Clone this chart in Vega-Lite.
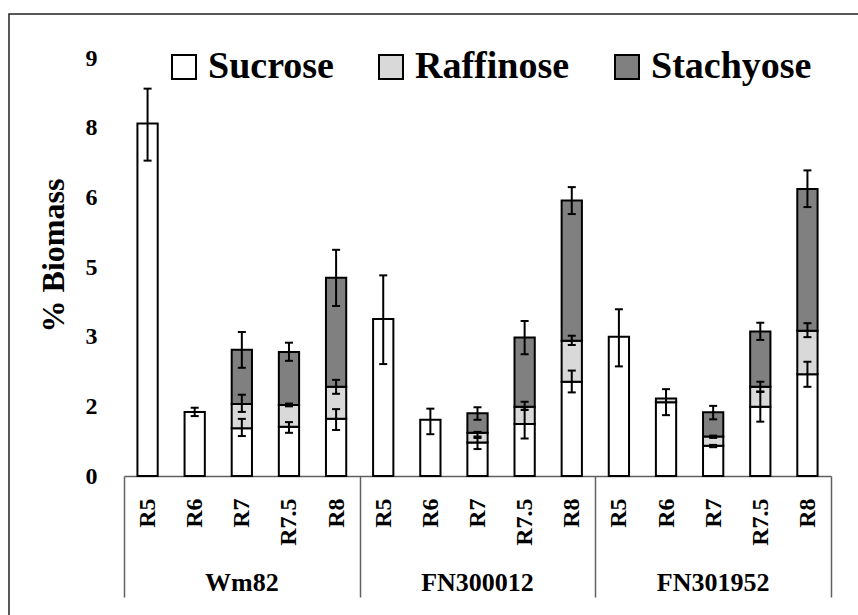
{
  "$schema": "https://vega.github.io/schema/vega-lite/v6.json",
  "width": 858,
  "height": 620,
  "autosize": {"type": "none"},
  "padding": {"left": 9, "top": 14, "right": 0, "bottom": 0},
  "background": "white",
  "config": {
    "font": "Liberation Serif",
    "view": {"stroke": "#222222", "strokeWidth": 1.5},
    "axisY": {
      "offset": -88, "ticks": false, "domain": false, "grid": false,
      "labelPadding": 0, "labelFontSize": 24, "labelFontWeight": "bold", "labelColor": "black",
      "titleFontSize": 32, "titleFontWeight": "bold", "titleColor": "black",
      "titlePadding": 15, "titleY": 241
    }
  },
  "data": {
    "values": [
      {"key": "Wm82 R5", "sugar": "Sucrose", "i": 1, "v": 7.59, "lo": 6.79, "hi": 8.34},
      {"key": "Wm82 R6", "sugar": "Sucrose", "i": 1, "v": 1.38, "lo": 1.29, "hi": 1.47},
      {"key": "Wm82 R7", "sugar": "Sucrose", "i": 1, "v": 1.03, "lo": 0.86, "hi": 1.23},
      {"key": "Wm82 R7", "sugar": "Raffinose", "i": 2, "v": 0.52, "lo": 1.38, "hi": 1.75},
      {"key": "Wm82 R7", "sugar": "Stachyose", "i": 3, "v": 1.17, "lo": 2.33, "hi": 3.10},
      {"key": "Wm82 R7.5", "sugar": "Sucrose", "i": 1, "v": 1.06, "lo": 0.93, "hi": 1.16},
      {"key": "Wm82 R7.5", "sugar": "Raffinose", "i": 2, "v": 0.47, "lo": 1.50, "hi": 1.56},
      {"key": "Wm82 R7.5", "sugar": "Stachyose", "i": 3, "v": 1.14, "lo": 2.48, "hi": 2.87},
      {"key": "Wm82 R8", "sugar": "Sucrose", "i": 1, "v": 1.23, "lo": 0.99, "hi": 1.44},
      {"key": "Wm82 R8", "sugar": "Raffinose", "i": 2, "v": 0.69, "lo": 1.77, "hi": 2.07},
      {"key": "Wm82 R8", "sugar": "Stachyose", "i": 3, "v": 2.35, "lo": 3.66, "hi": 4.87},
      {"key": "FN300012 R5", "sugar": "Sucrose", "i": 1, "v": 3.38, "lo": 2.41, "hi": 4.32},
      {"key": "FN300012 R6", "sugar": "Sucrose", "i": 1, "v": 1.21, "lo": 0.90, "hi": 1.45},
      {"key": "FN300012 R7", "sugar": "Sucrose", "i": 1, "v": 0.72, "lo": 0.58, "hi": 0.82},
      {"key": "FN300012 R7", "sugar": "Raffinose", "i": 2, "v": 0.21, "lo": 0.85, "hi": 0.95},
      {"key": "FN300012 R7", "sugar": "Stachyose", "i": 3, "v": 0.42, "lo": 1.21, "hi": 1.48},
      {"key": "FN300012 R7.5", "sugar": "Sucrose", "i": 1, "v": 1.12, "lo": 0.81, "hi": 1.48},
      {"key": "FN300012 R7.5", "sugar": "Raffinose", "i": 2, "v": 0.37, "lo": 1.42, "hi": 1.60},
      {"key": "FN300012 R7.5", "sugar": "Stachyose", "i": 3, "v": 1.49, "lo": 2.62, "hi": 3.34},
      {"key": "FN300012 R8", "sugar": "Sucrose", "i": 1, "v": 2.03, "lo": 1.80, "hi": 2.27},
      {"key": "FN300012 R8", "sugar": "Raffinose", "i": 2, "v": 0.88, "lo": 2.82, "hi": 3.02},
      {"key": "FN300012 R8", "sugar": "Stachyose", "i": 3, "v": 3.02, "lo": 5.64, "hi": 6.22},
      {"key": "FN301952 R5", "sugar": "Sucrose", "i": 1, "v": 3.00, "lo": 2.36, "hi": 3.59},
      {"key": "FN301952 R6", "sugar": "Sucrose", "i": 1, "v": 1.59, "lo": 1.31, "hi": 1.87},
      {"key": "FN301952 R6", "sugar": "Raffinose", "i": 2, "v": 0.08, "lo": null, "hi": null},
      {"key": "FN301952 R7", "sugar": "Sucrose", "i": 1, "v": 0.65, "lo": 0.62, "hi": 0.67},
      {"key": "FN301952 R7", "sugar": "Raffinose", "i": 2, "v": 0.20, "lo": 0.82, "hi": 0.87},
      {"key": "FN301952 R7", "sugar": "Stachyose", "i": 3, "v": 0.52, "lo": 1.22, "hi": 1.51},
      {"key": "FN301952 R7.5", "sugar": "Sucrose", "i": 1, "v": 1.49, "lo": 1.17, "hi": 1.81},
      {"key": "FN301952 R7.5", "sugar": "Raffinose", "i": 2, "v": 0.43, "lo": 1.82, "hi": 2.03},
      {"key": "FN301952 R7.5", "sugar": "Stachyose", "i": 3, "v": 1.19, "lo": 2.93, "hi": 3.30},
      {"key": "FN301952 R8", "sugar": "Sucrose", "i": 1, "v": 2.19, "lo": 1.92, "hi": 2.46},
      {"key": "FN301952 R8", "sugar": "Raffinose", "i": 2, "v": 0.94, "lo": 2.99, "hi": 3.29},
      {"key": "FN301952 R8", "sugar": "Stachyose", "i": 3, "v": 3.05, "lo": 5.79, "hi": 6.58}
    ]
  },
  "resolve": {"axis": {"x": "independent"}},
  "layer": [
    {
      "mark": {"type": "bar", "width": {"band": 0.43}, "stroke": "black", "strokeWidth": 2},
      "encoding": {
        "x": {
          "field": "key", "type": "nominal", "sort": null,
          "scale": {"type": "band", "domain": ["Wm82 R5","Wm82 R6","Wm82 R7","Wm82 R7.5","Wm82 R8","FN300012 R5","FN300012 R6","FN300012 R7","FN300012 R7.5","FN300012 R8","FN301952 R5","FN301952 R6","FN301952 R7","FN301952 R7.5","FN301952 R8"], "range": [115, 822], "paddingInner": 0, "paddingOuter": 0},
          "axis": {
            "orient": "bottom", "offset": -158, "title": null, "grid": false,
            "labelAngle": 270,
            "labelExpr": "isString(datum.value) ? split(datum.value, ' ')[1] : ''",
            "labelFontSize": 24, "labelFontWeight": "bold", "labelColor": "black",
            "labelPadding": -99, "labelOverlap": false,
            "tickBand": "extent", "tickSize": 121, "tickWidth": 1.5,
            "tickColor": {"condition": {"test": "!isString(datum.value) || datum.value == 'Wm82 R8' || datum.value == 'FN300012 R8' || datum.value == 'FN301952 R8'", "value": "#606060"}, "value": "transparent"},
            "domainColor": "#606060", "domainWidth": 1.5
          }
        },
        "y": {
          "field": "v", "type": "quantitative", "stack": "zero",
          "scale": {"domain": [0, 9], "range": [462, 44], "nice": false, "zero": true},
          "axis": {"title": "% Biomass", "values": [0, 1.5, 3, 4.5, 6, 7.5, 9], "format": ".0f"}
        },
        "color": {
          "field": "sugar", "type": "nominal",
          "scale": {"domain": ["Sucrose", "Raffinose", "Stachyose"], "range": ["#ffffff", "#d9d9d9", "#808080"]},
          "legend": {
            "title": null, "orient": "none", "legendX": 156, "legendY": 34,
            "direction": "horizontal", "columns": 3,
            "symbolType": "square", "symbolSize": 576, "symbolStrokeColor": "black", "symbolStrokeWidth": 2, "symbolOpacity": 1,
            "labelFontSize": 38, "labelFontWeight": "bold", "labelColor": "black", "labelOffset": 5, "labelLimit": 400,
            "columnPadding": 38, "padding": 0
          }
        },
        "order": {"field": "i", "type": "quantitative"}
      }
    },
    {
      "transform": [{"filter": "isValid(datum.lo)"}],
      "mark": {"type": "rule", "strokeWidth": 2, "color": "black"},
      "encoding": {
        "x": {
          "field": "key", "type": "nominal", "sort": null,
          "scale": {"type": "band", "domain": ["Wm82 R5","Wm82 R6","Wm82 R7","Wm82 R7.5","Wm82 R8","FN300012 R5","FN300012 R6","FN300012 R7","FN300012 R7.5","FN300012 R8","FN301952 R5","FN301952 R6","FN301952 R7","FN301952 R7.5","FN301952 R8"], "range": [115, 822], "paddingInner": 0, "paddingOuter": 0},
          "axis": {
            "orient": "bottom", "offset": -158, "title": null, "grid": false,
            "labelAngle": 0,
            "labelExpr": "isString(datum.value) && split(datum.value, ' ')[1] == 'R7' ? split(datum.value, ' ')[0] : ''",
            "labelFontSize": 26, "labelFontWeight": "bold", "labelColor": "black",
            "labelBaseline": "top", "labelAlign": "center", "labelPadding": 93, "labelOverlap": false,
            "ticks": false, "domain": false
          }
        },
        "y": {"field": "lo", "type": "quantitative", "axis": {"title": "% Biomass", "values": [0, 1.5, 3, 4.5, 6, 7.5, 9], "format": ".0f"}},
        "y2": {"field": "hi"}
      }
    },
    {
      "transform": [{"filter": "isValid(datum.lo)"}],
      "mark": {"type": "tick", "size": 8, "thickness": 2, "color": "black", "opacity": 1},
      "encoding": {
        "x": {"field": "key", "type": "nominal", "sort": null, "axis": null},
        "y": {"field": "lo", "type": "quantitative", "axis": {"title": "% Biomass", "values": [0, 1.5, 3, 4.5, 6, 7.5, 9], "format": ".0f"}}
      }
    },
    {
      "transform": [{"filter": "isValid(datum.lo)"}],
      "mark": {"type": "tick", "size": 8, "thickness": 2, "color": "black", "opacity": 1},
      "encoding": {
        "x": {"field": "key", "type": "nominal", "sort": null, "axis": null},
        "y": {"field": "hi", "type": "quantitative", "axis": {"title": "% Biomass", "values": [0, 1.5, 3, 4.5, 6, 7.5, 9], "format": ".0f"}}
      }
    }
  ]
}
